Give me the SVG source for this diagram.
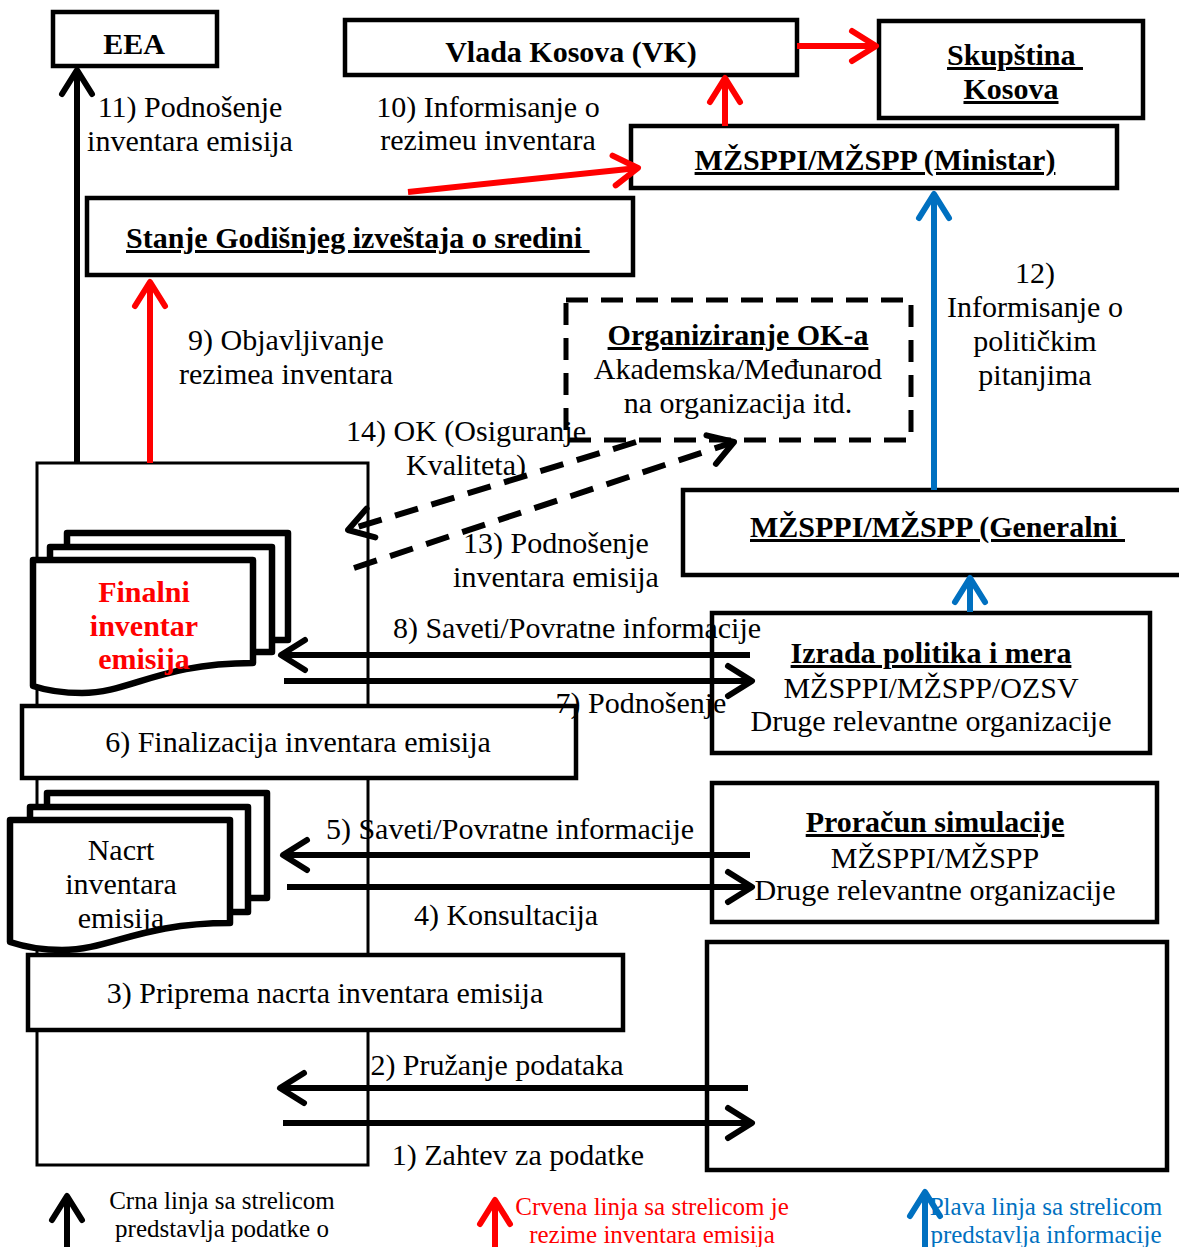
<svg xmlns="http://www.w3.org/2000/svg" width="1179" height="1247" viewBox="0 0 1179 1247">
<defs>
<style>
text{font-family:"Liberation Serif","Times New Roman",serif;font-size:30px;fill:#000}
.b{font-weight:bold}
.u{text-decoration:underline}
.m{text-anchor:middle}
.pre{white-space:pre}
.box{fill:#fff;stroke:#000;stroke-width:4.5}
.thin{fill:#fff;stroke:#000;stroke-width:3}
.doc{fill:#fff;stroke:#000;stroke-width:6.5;stroke-linejoin:round}
.dash{fill:none;stroke:#000;stroke-width:5;stroke-dasharray:22 13}
.k{fill:none;stroke:#000;stroke-width:6}
.r{fill:none;stroke:#f00;stroke-width:6}
.bl{fill:none;stroke:#0070c0;stroke-width:6}
.kd{fill:none;stroke:#000;stroke-width:6;stroke-dasharray:24 14}
.leg{font-size:25px}
</style>
<marker id="ak" viewBox="0 0 34 40" refX="30" refY="20" markerWidth="34" markerHeight="40" markerUnits="userSpaceOnUse" orient="auto" overflow="visible">
<path d="M6,5 L30,20 L6,35" fill="none" stroke="#000" stroke-width="6" stroke-linecap="round" stroke-linejoin="round"/>
</marker>
<marker id="ar" viewBox="0 0 34 40" refX="30" refY="20" markerWidth="34" markerHeight="40" markerUnits="userSpaceOnUse" orient="auto" overflow="visible">
<path d="M6,5 L30,20 L6,35" fill="none" stroke="#f00" stroke-width="6" stroke-linecap="round" stroke-linejoin="round"/>
</marker>
<marker id="ab" viewBox="0 0 34 40" refX="30" refY="20" markerWidth="34" markerHeight="40" markerUnits="userSpaceOnUse" orient="auto" overflow="visible">
<path d="M6,5 L30,20 L6,35" fill="none" stroke="#0070c0" stroke-width="6" stroke-linecap="round" stroke-linejoin="round"/>
</marker>
</defs>
<rect width="1179" height="1247" fill="#fff"/>

<g id="left-process">
<rect class="thin" x="37" y="463" width="331" height="702"/>
</g>

<g id="eea"><rect class="box" x="53" y="12" width="164" height="54"/><text class="b m" x="134" y="54">EEA</text></g>
<g id="vlada"><rect class="box" x="345" y="20" width="452" height="55"/><text class="b m" x="571" y="62">Vlada Kosova (VK)</text></g>
<g id="skupstina"><rect class="box" x="879" y="21" width="264" height="97"/><text class="b u m pre" x="1015" y="65">Skupština </text><text class="b u m" x="1011" y="99">Kosova</text></g>
<g id="ministar"><rect class="box" x="631" y="126" width="486" height="62"/><text class="b u m" x="875" y="170">MŽSPPI/MŽSPP (Ministar)</text></g>
<g id="stanje"><rect class="box" x="87" y="198" width="546" height="77"/><text class="b u pre" x="126" y="248">Stanje Godišnjeg izveštaja o sredini </text></g>
<g id="ok"><rect x="566" y="300" width="345" height="140" class="dash" fill="#fff"/><text class="b u m" x="738" y="345">Organiziranje OK-a</text><text class="m" x="738" y="379">Akademska/Međunarod</text><text class="m" x="738" y="413">na organizacija itd.</text></g>
<g id="generalni"><rect class="box" x="683" y="490" width="510" height="85"/><text class="b u pre" x="750" y="537">MŽSPPI/MŽSPP (Generalni </text></g>
<g id="izrada"><rect class="box" x="712" y="613" width="438" height="140"/><text class="b u m" x="931" y="663">Izrada politika i mera</text><text class="m" x="931" y="698">MŽSPPI/MŽSPP/OZSV</text><text class="m" x="931" y="731">Druge relevantne organizacije</text></g>
<g id="proracun"><rect class="box" x="712" y="783" width="445" height="139"/><text class="b u m" x="935" y="832">Proračun simulacije</text><text class="m" x="935" y="868">MŽSPPI/MŽSPP</text><text class="m" x="935" y="900">Druge relevantne organizacije</text></g>
<g id="data-source"><rect class="box" x="707" y="942" width="460" height="228"/></g>

<g id="finalni">
<rect class="doc" x="67" y="533" width="221" height="107"/>
<rect class="doc" x="50" y="547" width="222" height="105"/>
<path class="doc" d="M33,560 H253 V663 C160,663 130,693 82,693 C60,693 45,690 33,686 Z"/>
<text class="b m" x="144" y="602" style="fill:#f00">Finalni</text>
<text class="b m" x="144" y="636" style="fill:#f00">inventar</text>
<text class="b m" x="144" y="669" style="fill:#f00">emisija</text>
</g>
<g id="finalizacija"><rect class="box" x="22" y="706" width="554" height="72"/><text class="m" x="298" y="752">6) Finalizacija inventara emisija</text></g>

<g id="nacrt">
<rect class="doc" x="47" y="793" width="220" height="105"/>
<rect class="doc" x="30" y="807" width="218" height="105"/>
<path class="doc" d="M10,820 H230 V923 C140,923 110,950 62,950 C40,950 22,946 10,942 Z"/>
<text class="m" x="121" y="860">Nacrt</text>
<text class="m" x="121" y="894">inventara</text>
<text class="m" x="121" y="928">emisija</text>
</g>
<g id="priprema"><rect class="box" x="28" y="955" width="595" height="75"/><text class="m" x="325" y="1003">3) Priprema nacrta inventara emisija</text></g>

<g id="connectors">
<line class="k" x1="77" y1="463" x2="77" y2="70" marker-end="url(#ak)"/>
<line class="r" x1="150" y1="463" x2="150" y2="282" marker-end="url(#ar)"/>
<line class="r" x1="408" y1="192" x2="638" y2="168" marker-end="url(#ar)"/>
<line class="r" x1="725" y1="126" x2="725" y2="78" marker-end="url(#ar)"/>
<line class="r" x1="797" y1="46" x2="876" y2="46" marker-end="url(#ar)"/>
<line class="bl" x1="934" y1="490" x2="934" y2="194" marker-end="url(#ab)"/>
<line class="bl" x1="970" y1="612" x2="970" y2="578" marker-end="url(#ab)"/>
<line class="kd" x1="636" y1="442" x2="348" y2="530" marker-end="url(#ak)"/>
<line class="kd" x1="354" y1="568" x2="734" y2="442" marker-end="url(#ak)"/>
<line class="k" x1="750" y1="655" x2="281" y2="655" marker-end="url(#ak)"/>
<line class="k" x1="284" y1="681" x2="752" y2="681" marker-end="url(#ak)"/>
<line class="k" x1="750" y1="855" x2="283" y2="855" marker-end="url(#ak)"/>
<line class="k" x1="287" y1="887" x2="752" y2="887" marker-end="url(#ak)"/>
<line class="k" x1="748" y1="1088" x2="280" y2="1088" marker-end="url(#ak)"/>
<line class="k" x1="283" y1="1123" x2="752" y2="1123" marker-end="url(#ak)"/>
</g>

<g id="labels">
<text class="m" x="190" y="117">11) Podnošenje</text><text class="m" x="190" y="151">inventara emisija</text>
<text class="m" x="488" y="117">10) Informisanje o</text><text class="m" x="488" y="150">rezimeu inventara</text>
<text class="m" x="1035" y="283">12)</text><text class="m" x="1035" y="317">Informisanje o</text><text class="m" x="1035" y="351">političkim</text><text class="m" x="1035" y="385">pitanjima</text>
<text class="m" x="286" y="350">9) Objavljivanje</text><text class="m" x="286" y="384">rezimea inventara</text>
<text class="m" x="466" y="441">14) OK (Osiguranje</text><text class="m" x="466" y="475">Kvaliteta)</text>
<text class="m" x="556" y="553">13) Podnošenje</text><text class="m" x="556" y="587">inventara emisija</text>
<text class="m" x="577" y="638">8) Saveti/Povratne informacije</text>
<text class="m" x="641" y="713">7) Podnošenje</text>
<text class="m" x="510" y="839">5) Saveti/Povratne informacije</text>
<text class="m" x="506" y="925">4) Konsultacija</text>
<text class="m" x="497" y="1075">2) Pružanje podataka</text>
<text class="m" x="518" y="1165">1) Zahtev za podatke</text>
</g>

<g id="legend">
<line class="k" x1="67" y1="1247" x2="67" y2="1196" marker-end="url(#ak)"/>
<text class="m leg" x="222" y="1209">Crna linja sa strelicom</text><text class="m leg" x="222" y="1237">predstavlja podatke o</text>
<line class="r" x1="495" y1="1247" x2="495" y2="1200" marker-end="url(#ar)"/>
<text class="m leg" x="652" y="1215" style="fill:#f00">Crvena linja sa strelicom je</text><text class="m leg" x="652" y="1243" style="fill:#f00">rezime inventara emisija</text>
<line class="bl" x1="925" y1="1247" x2="925" y2="1192" marker-end="url(#ab)"/>
<text class="m leg" x="1046" y="1215" style="fill:#0070c0">Plava linja sa strelicom</text><text class="m leg" x="1046" y="1243" style="fill:#0070c0">predstavlja informacije</text>
</g>
</svg>
